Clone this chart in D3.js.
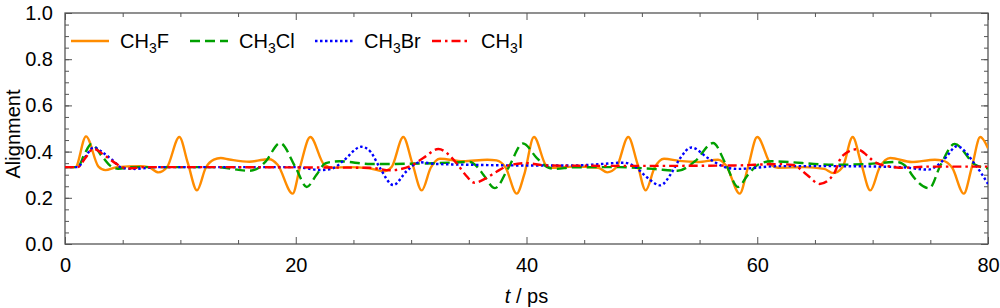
<!DOCTYPE html>
<html><head><meta charset="utf-8">
<script src="https://cdn.jsdelivr.net/npm/d3@7"></script>
<style>body{margin:0;background:#fff}text{font-family:"Liberation Sans",Arial,sans-serif;fill:#000}</style>
</head><body><svg id="c" width="1000" height="308"></svg>
<script>
// ---- data ----
const xTicks = [0, 20, 40, 60, 80];
const yTicks = [0.0, 0.2, 0.4, 0.6, 0.8, 1.0];
const seriesNames = ["CH3F", "CH3Cl", "CH3Br", "CH3I"];
const tCH3F = [0,0.9,1.82,2.9,3.5,4.5,6.5,7.25,8.1,8.85,9.91,10.65,11.44,12.2,12.9,13.5,14.24,15.97,17.2,17.71,18.43,19.73,20.37,21.26,22.47,23.2,24.5,26.35,27.6,28.3,29.32,30.1,30.92,31.7,32.5,34.5,36.6,37.4,38.2,39.15,39.8,40.65,41.66,42.1,44,46.2,47.0,47.8,48.82,49.6,50.33,51.1,51.92,53.2,54.87,56.6,57.3,58.48,59.2,60.0,61.2,61.8,64.1,65.8,66.6,67.4,68.27,69.0,69.8,70.6,71.53,73.4,75.4,76.0,76.9,77.9,78.6,79.33,80];
const vCH3F = [0.333,0.333,0.466,0.335,0.32,0.333,0.337,0.333,0.31,0.333,0.463,0.35,0.232,0.33,0.365,0.372,0.366,0.356,0.365,0.367,0.343,0.218,0.333,0.463,0.343,0.33,0.333,0.328,0.315,0.333,0.463,0.35,0.232,0.33,0.369,0.358,0.365,0.362,0.33,0.218,0.30,0.463,0.343,0.33,0.335,0.33,0.31,0.333,0.463,0.35,0.232,0.33,0.369,0.36,0.355,0.365,0.34,0.218,0.333,0.463,0.343,0.33,0.333,0.325,0.307,0.333,0.463,0.35,0.232,0.33,0.372,0.355,0.365,0.362,0.33,0.218,0.333,0.463,0.415];
const tCH3Cl = [0,1.1,1.7,2.28,3.2,4.07,4.6,6,10,13.1,15.97,16.8,17.4,18.64,20.0,20.95,21.8,22.6,23.78,26.5,32.2,35.1,35.8,36.26,37.27,38.43,39.7,40.9,41.8,42.5,44,48,51,53.1,54.6,56.17,57.3,58.33,59.2,60.06,61.2,66.6,69.4,72.1,73.0,73.4,74.9,75.9,77.1,78.9,80];
const vCH3Cl = [0.333,0.333,0.39,0.433,0.38,0.333,0.326,0.333,0.333,0.333,0.317,0.33,0.358,0.437,0.33,0.247,0.3,0.35,0.358,0.346,0.35,0.355,0.33,0.30,0.242,0.33,0.435,0.372,0.333,0.325,0.332,0.333,0.325,0.317,0.358,0.437,0.343,0.247,0.3,0.343,0.358,0.343,0.346,0.355,0.33,0.30,0.241,0.343,0.433,0.343,0.328];
const tCH3Br = [0,1.1,1.8,2.48,3.3,4.07,4.94,6,8,20,22.2,23.2,24.07,25.7,26.5,27.3,28.46,29.6,30.77,32,35.1,39.9,44,46.4,48.4,49.4,50.4,51.6,52.6,53.3,54.3,55.73,57.2,58.3,61.8,66.6,72.3,74.86,75.6,76.3,77.3,78.9,80];
const vCH3Br = [0.333,0.333,0.38,0.418,0.395,0.365,0.33,0.325,0.333,0.333,0.32,0.327,0.358,0.421,0.398,0.329,0.255,0.315,0.354,0.347,0.343,0.34,0.34,0.346,0.352,0.335,0.29,0.254,0.31,0.37,0.418,0.372,0.333,0.325,0.337,0.337,0.333,0.322,0.34,0.372,0.423,0.343,0.26];
const tCH3I = [0,1.1,1.8,2.45,3.4,4.36,5.37,7,26.4,28.17,29.9,31.05,32.36,33.95,34.7,35.5,36.5,37.4,38.6,39.9,41.7,50,58,61.8,63.1,64.3,65.4,66.6,67.35,68.6,70.4,71.5,72.3,75,80];
const vCH3I = [0.333,0.333,0.375,0.412,0.385,0.35,0.327,0.333,0.33,0.319,0.337,0.372,0.411,0.349,0.3,0.265,0.285,0.313,0.342,0.35,0.34,0.338,0.34,0.346,0.342,0.30,0.26,0.30,0.38,0.41,0.349,0.335,0.33,0.335,0.335];

// ---- layout ----
const svg = d3.select("#c");
const L = 65, R = 988, T = 13, B = 244;
const x = d3.scaleLinear().domain([0, 80]).range([L, R]);
const y = d3.scaleLinear().domain([0, 1]).range([B, T]);
const frameColor = "#555";

const series = [
  {name: seriesNames[0], t: tCH3F, v: vCH3F, color: "#ff8c00", dash: null},
  {name: seriesNames[1], t: tCH3Cl, v: vCH3Cl, color: "#00a000", dash: "10,5"},
  {name: seriesNames[2], t: tCH3Br, v: vCH3Br, color: "#0000ff", dash: "2.5,2.5"},
  {name: seriesNames[3], t: tCH3I, v: vCH3I, color: "#ff0000", dash: "9,4,2.5,4"}
];

function axisG(axis, tx, ty) {
  return svg.append("g").attr("transform", `translate(${tx},${ty})`).call(axis);
}
const fmtY = d3.format(".1f");
const minorX = d3.range(0, 81, 5), minorY = d3.range(0, 1.0001, 0.05);
axisG(d3.axisBottom(x).tickValues(xTicks).tickSize(-7).tickPadding(14).tickFormat(d3.format("d")), 0, B);
axisG(d3.axisTop(x).tickValues(xTicks).tickSize(-7).tickFormat(""), 0, T);
axisG(d3.axisLeft(y).tickValues(yTicks).tickSize(-7).tickPadding(12).tickFormat(fmtY), L, 0);
axisG(d3.axisRight(y).tickValues(yTicks).tickSize(-7).tickFormat(""), R, 0);
axisG(d3.axisBottom(x).tickValues(minorX.filter(v => v % 20)).tickSize(-4).tickFormat(""), 0, B);
axisG(d3.axisTop(x).tickValues(minorX.filter(v => v % 20)).tickSize(-4).tickFormat(""), 0, T);
axisG(d3.axisLeft(y).tickValues(minorY).tickSize(-4).tickFormat(""), L, 0);
axisG(d3.axisRight(y).tickValues(minorY).tickSize(-4).tickFormat(""), R, 0);
svg.selectAll(".domain").remove();
svg.selectAll(".tick line").attr("stroke", frameColor).attr("stroke-width", 1);
svg.selectAll(".tick text").attr("font-size", 20).attr("fill", "#000").attr("font-family", '"Liberation Sans",Arial,sans-serif');
svg.append("rect").attr("x", L).attr("y", T).attr("width", R - L).attr("height", B - T)
  .attr("fill", "none").attr("stroke", frameColor).attr("stroke-width", 1.3);

const clip = svg.append("clipPath").attr("id", "clp").append("rect")
  .attr("x", L).attr("y", T).attr("width", R - L).attr("height", B - T);
const line = d3.line().x(d => x(d[0])).y(d => y(d[1])).curve(d3.curveMonotoneX);
series.forEach(s => {
  const pts = s.t.map((t, i) => [t, s.v[i]]);
  svg.append("path").attr("d", line(pts)).attr("fill", "none")
    .attr("stroke", s.color).attr("stroke-width", 2.4)
    .attr("stroke-dasharray", s.dash).attr("clip-path", "url(#clp)");
});

const legX = [71, 190, 315, 432];
series.forEach((s, i) => {
  const g = svg.append("g").attr("transform", `translate(${legX[i]},41)`);
  g.append("line").attr("x1", 0).attr("x2", 38).attr("y1", 0).attr("y2", 0)
    .attr("stroke", s.color).attr("stroke-width", 2.4).attr("stroke-dasharray", s.dash);
  const txt = g.append("text").attr("x", 49).attr("y", 7).attr("font-size", 20);
  txt.append("tspan").text("CH");
  txt.append("tspan").text("3").attr("font-size", 14).attr("dy", 5);
  txt.append("tspan").text(s.name.slice(3)).attr("dy", -5);
});

svg.append("text").attr("transform", `translate(20,134) rotate(-90)`)
  .attr("text-anchor", "middle").attr("font-size", 20).text("Alignment");
const xl = svg.append("text").attr("x", (L + R) / 2).attr("y", 303).attr("text-anchor", "middle").attr("font-size", 20);
xl.append("tspan").attr("font-style", "italic").text("t");
xl.append("tspan").text(" / ps");
</script></body></html>
